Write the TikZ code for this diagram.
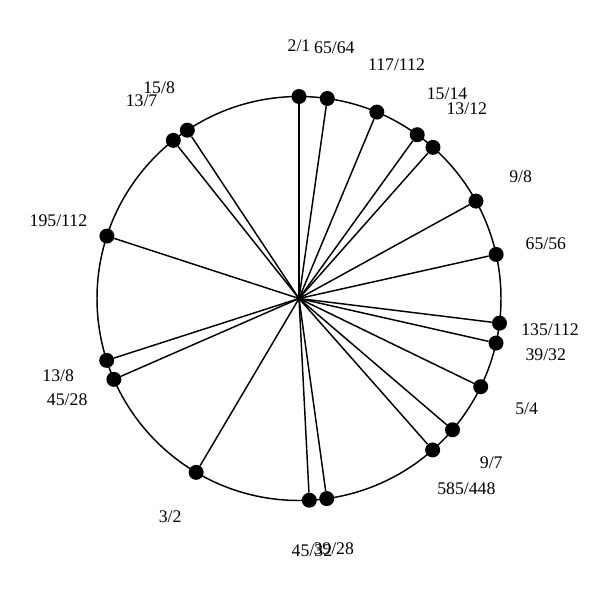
\documentclass[tikz,border=0pt]{standalone}
\usepackage{fontspec}
\setmainfont{Liberation Serif}
\begin{document}
\begin{tikzpicture}[x=0.75pt,y=0.75pt,yscale=-1,xscale=1,
  dot/.style={circle,fill=black,inner sep=0pt,minimum size=11.25pt},
  ratio/.style={font=\fontsize{13.3}{15}\selectfont,inner sep=0pt}]
\useasboundingbox (0,0) rectangle (600,600);

%Shape: Circle
\coordinate (c) at (299,298.5);
\draw [line width=1.1pt] (c) circle [radius=202];

%Ratios: dot, spoke and label
\foreach \n/\d [count=\i] in {2/1,65/64,117/112,15/14,13/12,9/8,65/56,135/112,39/32,5/4,9/7,585/448,39/28,45/32,3/2,45/28,13/8,195/112,13/7,15/8}{
  \pgfmathsetmacro{\a}{ln(\n/\d)/ln(2)*360-90}
  \node [dot] (p\i) at ([shift={(\a:202)}]c) {};
  \draw [line width=1.1pt] (c) -- (p\i);
  \node [ratio] (l\i) at ([shift={(\a:253)}]c) {\n/\d};
}

\end{tikzpicture}
\end{document}
